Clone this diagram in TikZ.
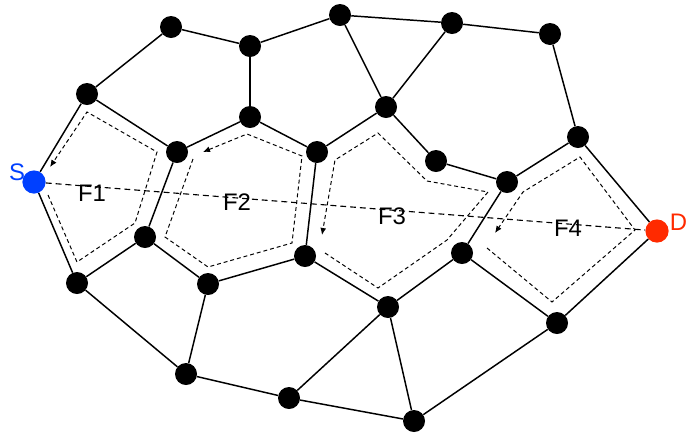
\documentclass[tikz,border=0pt]{standalone}
\usepackage{fontspec}
\setmainfont{Liberation Sans}
\usetikzlibrary{arrows.meta}
\definecolor{srcblue}{HTML}{0040FF}
\definecolor{dstred}{HTML}{FF2A00}

\begin{document}
\begin{tikzpicture}[x=0.025cm, y=-0.025cm, font=\fontsize{17}{20}\selectfont,
  vertex/.style={circle, fill=black, inner sep=0pt, minimum size=0.55cm},
  edge/.style={line width=1.05pt},
  facetrail/.style={line width=0.7pt, dash pattern=on 2.8pt off 2.1pt, -{Latex[length=5pt,width=4.2pt]}},
  sdline/.style={line width=0.8pt, dash pattern=on 4.2pt off 2.8pt}]
  \useasboundingbox (0,0) rectangle (688,435);
  % vertices
  \node[vertex] (v1) at (171,27) {};
  \node[vertex] (v2) at (250,46) {};
  \node[vertex] (v3) at (340,15) {};
  \node[vertex] (v4) at (452,23) {};
  \node[vertex] (v5) at (550,34) {};
  \node[vertex] (v6) at (87,94) {};
  \node[vertex] (v7) at (386,107) {};
  \node[vertex] (v8) at (250,117) {};
  \node[vertex] (v9) at (177,152) {};
  \node[vertex] (v10) at (317,152) {};
  \node[vertex] (v11) at (436,161) {};
  \node[vertex] (v12) at (578,137) {};
  \node[vertex] (v13) at (507,182) {};
  \node[vertex] (v14) at (145,237) {};
  \node[vertex] (v15) at (305,256) {};
  \node[vertex] (v16) at (462,253) {};
  \node[vertex] (v17) at (77,283) {};
  \node[vertex] (v18) at (208,284) {};
  \node[vertex] (v19) at (388,307) {};
  \node[vertex] (v20) at (557,323) {};
  \node[vertex] (v21) at (186,374) {};
  \node[vertex] (v22) at (289,398) {};
  \node[vertex] (v23) at (414,421) {};
  \node[vertex, fill=srcblue, minimum size=0.58cm] (S) at (34,182) {};
  \node[vertex, fill=dstred, minimum size=0.58cm] (D) at (657,231) {};
  \node[text=srcblue] (slabel) at (17,172) {S};
  \node[text=dstred, anchor=east, inner sep=0.5pt] (dlabel) at (688,222) {D};
  % edges
  \draw[edge] (v1) -- (v2) -- (v3) -- (v4) -- (v5);
  \draw[edge] (v1) -- (v6) -- (S) -- (v17) -- (v21) -- (v22) -- (v23) -- (v20) -- (D) -- (v12) -- (v5);
  \draw[edge] (v3) -- (v7) -- (v4);
  \draw[edge] (v2) -- (v8);
  \draw[edge] (v6) -- (v9) -- (v8) -- (v10) -- (v7) -- (v11) -- (v13) -- (v12);
  \draw[edge] (v9) -- (v14) -- (v18) -- (v15) -- (v10);
  \draw[edge] (v14) -- (v17);
  \draw[edge] (v18) -- (v21);
  \draw[edge] (v15) -- (v19) -- (v16) -- (v13);
  \draw[edge] (v16) -- (v20);
  \draw[edge] (v22) -- (v19) -- (v23);
  % face walks
  \draw[facetrail] (48,195) -- (77,262) -- (135,223) -- (157,152) -- (87,112) -- (50,167);
  \draw[facetrail] (193,159) -- (165,237) -- (208,267) -- (292,243) -- (302,156) -- (247,134) -- (203,152);
  \draw[facetrail] (325,253) -- (378,288) -- (447,240) -- (488,192) -- (427,181) -- (378,133) -- (335,160) -- (322,235);
  \draw[facetrail] (487,248) -- (552,302) -- (635,230) -- (580,157) -- (523,192) -- (495,233);
  % source to destination
  \draw[sdline] (S) -- (D);
  \node (f1) at (92,193) {F1};
  \node (f2) at (237,202) {F2};
  \node (f3) at (392,216) {F3};
  \node (f4) at (568,228) {F4};
\end{tikzpicture}
\end{document}
